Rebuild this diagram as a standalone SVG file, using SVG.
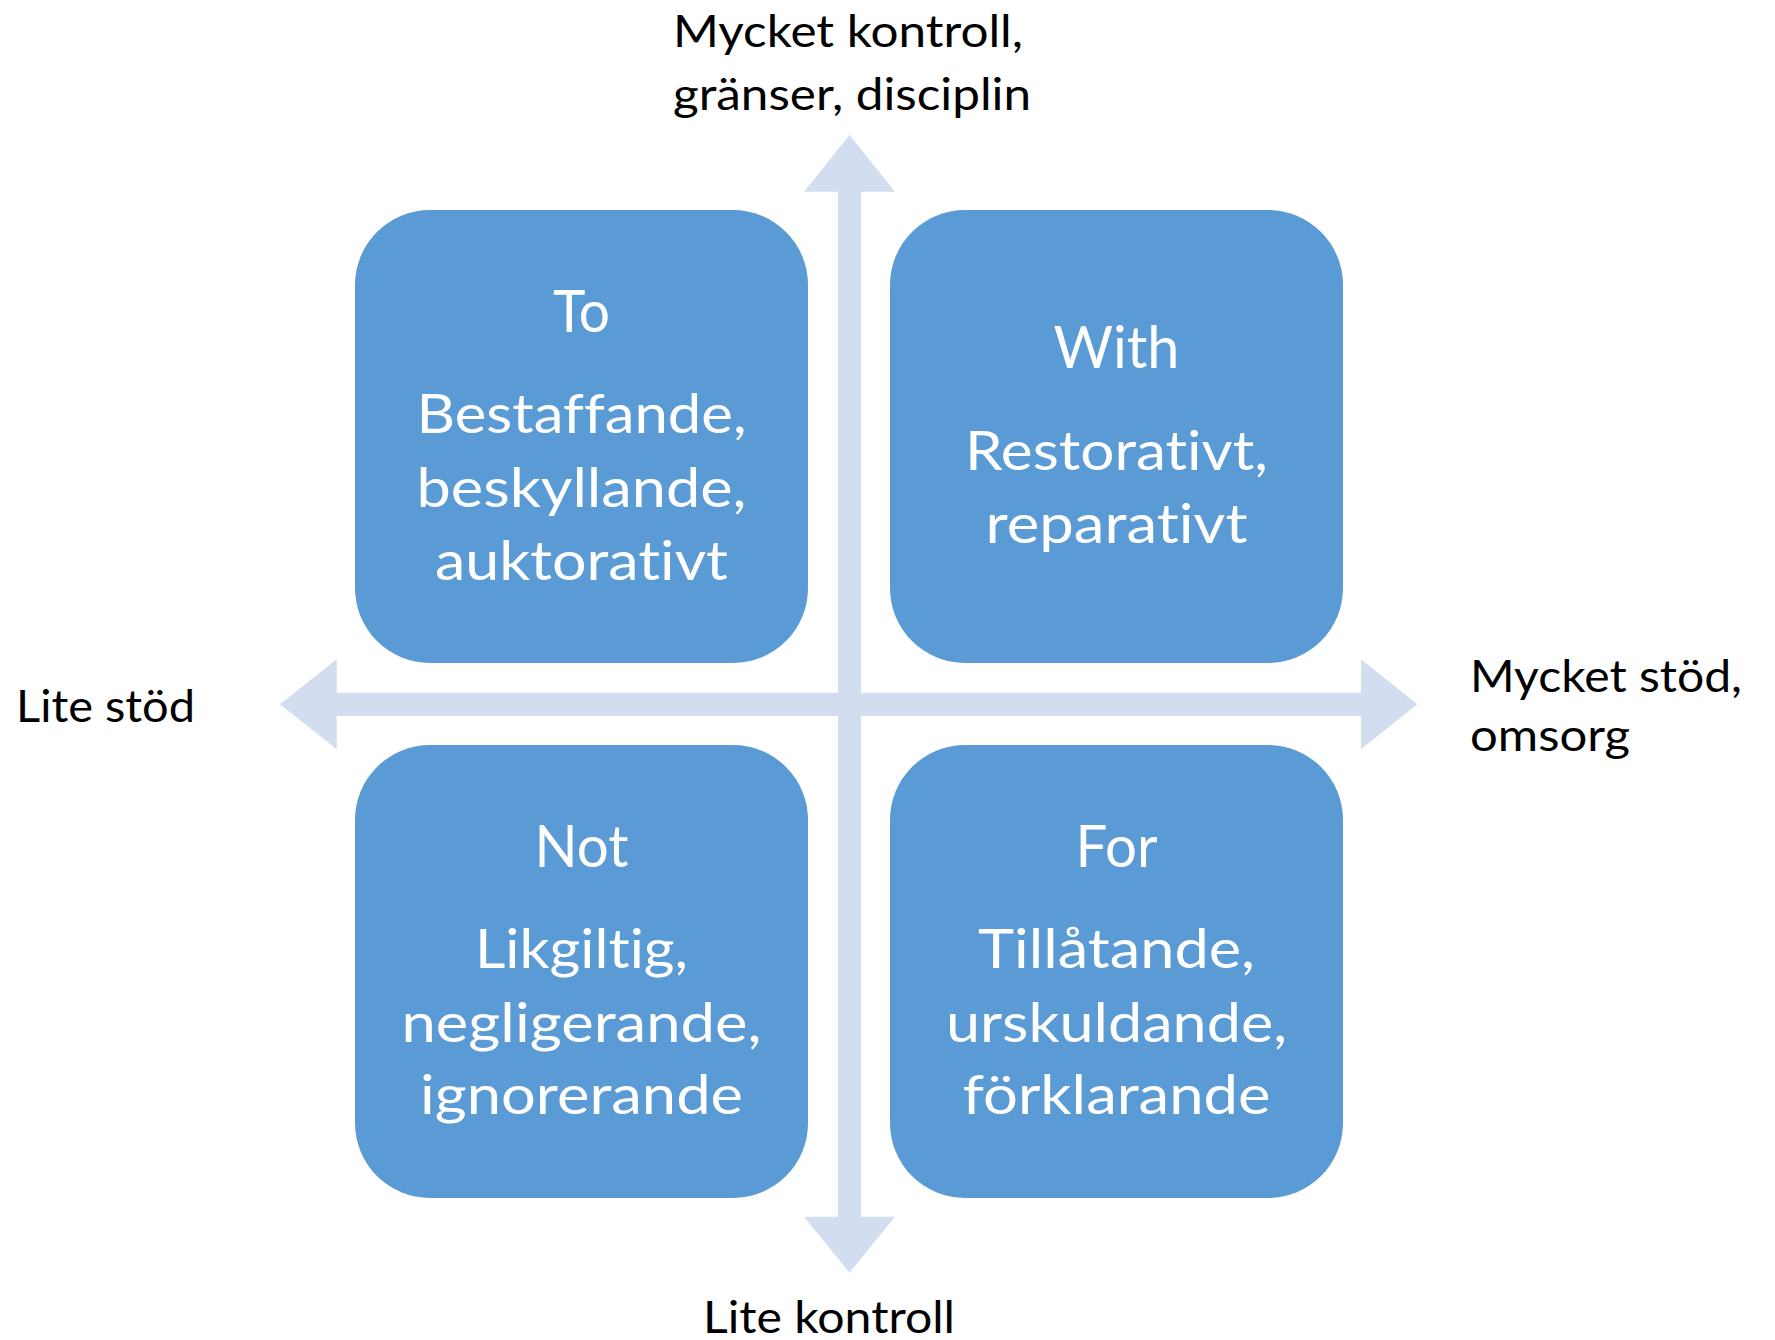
<svg xmlns="http://www.w3.org/2000/svg" width="1775" height="1340" viewBox="0 0 1775 1340">
<style>
.box{fill:#5B9BD5}
.arrow{fill:#D2DEEF}
text{font-variant-ligatures:none;font-feature-settings:"liga" 0,"clig" 0}
.t{font-family:Lato,"Open Sans","Liberation Sans",sans-serif;fill:#FFFFFF;text-anchor:middle}
.title{font-size:58px}
.body{font-size:54px}
.lab{font-family:Lato,"Open Sans","Liberation Sans",sans-serif;fill:#000000;font-size:45px}
</style>
<rect width="1775" height="1340" fill="#FFFFFF"/>
<g id="connectors">
<polygon class="arrow" points="849.5,135 895,191.7 861,191.7 861,1216.7 895,1216.7 849.5,1272.7 804,1216.7 838,1216.7 838,191.7 804,191.7"/>
<polygon class="arrow" points="280,704.3 336.7,659.3 336.7,692.7 1361,692.7 1361,659.3 1417.3,704.3 1361,749.3 1361,716 336.7,716 336.7,749.3"/>
</g>
<g id="node-to">
<rect class="box" x="355" y="210" width="453" height="453" rx="75" ry="75"/>
<text class="t title" x="581.5" y="331.7" textLength="57" lengthAdjust="spacingAndGlyphs">To</text>
<text class="t body" x="581.5" y="433" textLength="330" lengthAdjust="spacingAndGlyphs">Bestaffande,</text>
<text class="t body" x="581.5" y="506.5" textLength="330" lengthAdjust="spacingAndGlyphs">beskyllande,</text>
<text class="t body" x="581.5" y="579.5" textLength="293" lengthAdjust="spacingAndGlyphs">auktorativt</text>
</g>
<g id="node-with">
<rect class="box" x="890" y="210" width="453" height="453" rx="75" ry="75"/>
<text class="t title" x="1116.5" y="368.3" textLength="126" lengthAdjust="spacingAndGlyphs">With</text>
<text class="t body" x="1116.5" y="470" textLength="303" lengthAdjust="spacingAndGlyphs">Restorativt,</text>
<text class="t body" x="1116.5" y="543.3" textLength="262" lengthAdjust="spacingAndGlyphs">reparativt</text>
</g>
<g id="node-not">
<rect class="box" x="355" y="745" width="453" height="453" rx="75" ry="75"/>
<text class="t title" x="581.5" y="866.7" textLength="94" lengthAdjust="spacingAndGlyphs">Not</text>
<text class="t body" x="581.5" y="968.3" textLength="213" lengthAdjust="spacingAndGlyphs">Likgiltig,</text>
<text class="t body" x="581.5" y="1041.7" textLength="360" lengthAdjust="spacingAndGlyphs">negligerande,</text>
<text class="t body" x="581.5" y="1114" textLength="323" lengthAdjust="spacingAndGlyphs">ignorerande</text>
</g>
<g id="node-for">
<rect class="box" x="890" y="745" width="453" height="453" rx="75" ry="75"/>
<text class="t title" x="1116.5" y="866.7" textLength="82" lengthAdjust="spacingAndGlyphs">For</text>
<text class="t body" x="1116.5" y="968.3" textLength="277" lengthAdjust="spacingAndGlyphs">Tillåtande,</text>
<text class="t body" x="1116.5" y="1041.7" textLength="341" lengthAdjust="spacingAndGlyphs">urskuldande,</text>
<text class="t body" x="1116.5" y="1114" textLength="308" lengthAdjust="spacingAndGlyphs">förklarande</text>
</g>
<g id="label-top">
<text class="lab" x="673" y="47" textLength="350" lengthAdjust="spacingAndGlyphs">Mycket kontroll,</text>
<text class="lab" x="673" y="110" textLength="358" lengthAdjust="spacingAndGlyphs">gränser, disciplin</text>
</g>
<g id="label-left">
<text class="lab" x="16" y="721.7" textLength="179" lengthAdjust="spacingAndGlyphs">Lite stöd</text>
</g>
<g id="label-right">
<text class="lab" x="1470" y="691.7" textLength="272" lengthAdjust="spacingAndGlyphs">Mycket stöd,</text>
<text class="lab" x="1470" y="751" textLength="160" lengthAdjust="spacingAndGlyphs">omsorg</text>
</g>
<g id="label-bottom">
<text class="lab" x="703" y="1333" textLength="252" lengthAdjust="spacingAndGlyphs">Lite kontroll</text>
</g>
</svg>
